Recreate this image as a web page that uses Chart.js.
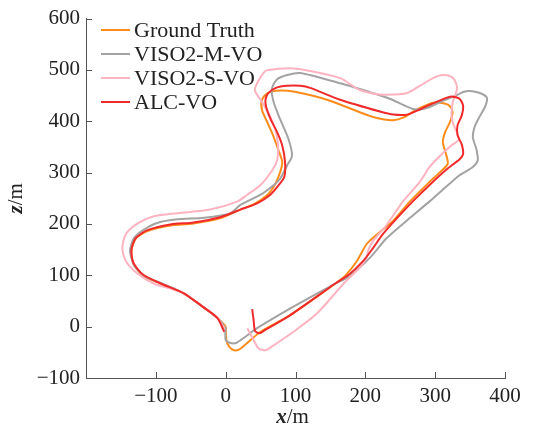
<!DOCTYPE html>
<html>
<head>
<meta charset="utf-8">
<script src="https://cdn.jsdelivr.net/npm/chart.js@4.4.0/dist/chart.umd.min.js"></script>
<style>
  html, body { margin: 0; padding: 0; background: #fff; }
  #wrap { width: 533px; height: 437px; }
</style>
</head>
<body>
<div id="wrap"><canvas id="traj" width="533" height="437"></canvas></div>
<script>
// trajectories, x / z in metres
const gtX = [0, 1, 5, 12, 21, 50, 92, 157, 171, 188, 202, 217, 239, 264, 292, 307, 318, 316, 311, 314, 321, 325, 322, 315, 297, 274, 254, 240, 225, 207, 145, 97, 78, 60, 52, 52, 60, 68, 75, 81, 78, 71, 60, 40, 21, -8, -46, -79, -112, -129, -135, -132, -118, -93, -60, -32, -12, -2, 0]
const gtZ = [0, -26, -39, -46, -43, -10, 22, 84, 99, 128, 161, 180, 205, 244, 282, 301, 317, 334, 359, 378, 398, 417, 428, 434, 436, 423, 407, 402, 404, 410, 442, 458, 460, 455, 442, 422, 397, 372, 346, 321, 301, 278, 257, 238, 228, 211, 201, 197, 186, 171, 147, 122, 99, 84, 65, 38, 17, 4, 0]

const monoX = [0, 0, 7, 16, 45, 97, 157, 178, 207, 231, 264, 292, 316, 335, 354, 361, 359, 354, 357, 364, 372, 374, 364, 350, 340, 331, 311, 288, 268, 235, 192, 164, 107, 88, 73, 66, 69, 78, 90, 95, 88, 78, 69, 50, 21, 7, -31, -69, -98, -117, -131, -137, -131, -117, -93, -60, -32, -12, -2]
const monoZ = [0, -26, -32, -31, -3, 39, 84, 99, 135, 173, 212, 244, 273, 295, 311, 324, 346, 369, 391, 410, 430, 446, 455, 459, 457, 451, 440, 426, 424, 444, 463, 474, 494, 490, 481, 462, 436, 404, 365, 333, 314, 288, 276, 257, 237, 221, 212, 209, 202, 189, 173, 148, 119, 99, 85, 65, 38, 17, 2]

const stereoX = [31, 40, 47, 57, 66, 97, 131, 169, 192, 202, 204, 211, 231, 254, 278, 292, 307, 323, 334, 324, 325, 331, 330, 324, 311, 297, 278, 260, 240, 221, 192, 164, 121, 97, 68, 57, 45, 42, 50, 61, 71, 75, 74, 67, 50, 31, 17, -22, -69, -103, -126, -143, -148, -143, -126, -103, -79, -60, -32, -12, -2]
const stereoZ = [-3, -26, -42, -46, -39, -10, 26, 84, 115, 135, 148, 167, 199, 244, 282, 311, 333, 353, 365, 403, 436, 461, 474, 486, 490, 484, 469, 455, 452, 452, 461, 484, 498, 503, 501, 498, 474, 459, 442, 417, 384, 353, 326, 305, 276, 257, 244, 228, 221, 215, 201, 180, 153, 128, 103, 84, 74, 65, 38, 17, -4]

const alcX = [38, 40, 42, 48, 57, 92, 157, 178, 197, 211, 225, 245, 268, 292, 317, 335, 340, 338, 332, 332, 338, 340, 335, 325, 317, 292, 278, 260, 240, 221, 164, 121, 107, 88, 72, 61, 57, 58, 64, 74, 81, 85, 84, 75, 64, 45, 21, -8, -46, -79, -112, -129, -135, -132, -118, -93, -60, -32, -12, -2]
const alcZ = [34, 13, -8, -13, -6, 22, 84, 103, 128, 153, 180, 211, 244, 276, 307, 326, 336, 355, 373, 392, 411, 430, 444, 448, 446, 432, 423, 413, 413, 419, 442, 465, 469, 469, 465, 455, 442, 428, 405, 378, 353, 321, 292, 274, 257, 240, 228, 213, 203, 199, 188, 172, 149, 124, 101, 84, 65, 38, 17, -10]

const xTicks = [-100, 0, 100, 200, 300, 400]
const zTicks = [-100, 0, 100, 200, 300, 400, 500, 600]

const seriesNames = ['Ground Truth', 'VISO2-M-VO', 'VISO2-S-VO', 'ALC-VO']
const seriesColors = ['#ff8c1a', '#a3a3a3', '#ffb3c0', '#f02a2a']

const FONT = '"Liberation Serif", "Times New Roman", serif'
const AXIS = '#555'
const TEXT = '#222'

const toPoints = (xs, zs) => xs.map((x, i) => ({x: x, y: zs[i]}))
const fmt = v => v < 0 ? '\u2212' + Math.abs(v) : String(v)

// tick marks point into the plot, like the original
const insideTicks = {
  id: 'insideTicks',
  afterDraw(chart) {
    const {ctx, chartArea, scales} = chart
    ctx.save()
    ctx.strokeStyle = AXIS
    ctx.lineWidth = 1
    xTicks.forEach(v => {
      const px = Math.round(scales.x.getPixelForValue(v)) + 0.5
      ctx.beginPath()
      ctx.moveTo(px, chartArea.bottom)
      ctx.lineTo(px, chartArea.bottom - 6)
      ctx.stroke()
    })
    zTicks.forEach(v => {
      const py = Math.round(scales.y.getPixelForValue(v)) + 0.5
      ctx.beginPath()
      ctx.moveTo(chartArea.left, py)
      ctx.lineTo(chartArea.left + 6, py)
      ctx.stroke()
    })
    ctx.restore()
  }
}

// legend sits inside the plot, top left
const innerLegend = {
  id: 'innerLegend',
  afterDraw(chart) {
    const {ctx} = chart
    ctx.save()
    ctx.font = '22px ' + FONT
    ctx.textBaseline = 'middle'
    ctx.fillStyle = TEXT
    chart.data.datasets.forEach((ds, i) => {
      const y = 30 + i * 24
      ctx.strokeStyle = ds.borderColor
      ctx.lineWidth = 2
      ctx.beginPath()
      ctx.moveTo(101, y)
      ctx.lineTo(130, y)
      ctx.stroke()
      ctx.fillText(ds.label, 134, y + 1)
    })
    ctx.restore()
  }
}

// axis titles with italic bold variable and upright unit
const axisTitles = {
  id: 'axisTitles',
  afterDraw(chart) {
    const {ctx, chartArea} = chart
    const drawTitle = (v, unit) => {
      ctx.font = 'italic bold 21px ' + FONT
      const w1 = ctx.measureText(v).width
      ctx.font = '21px ' + FONT
      const w2 = ctx.measureText(unit).width
      const x0 = -(w1 + w2) / 2
      ctx.font = 'italic bold 21px ' + FONT
      ctx.fillText(v, x0, 0)
      ctx.font = '21px ' + FONT
      ctx.fillText(unit, x0 + w1, 0)
    }
    ctx.save()
    ctx.fillStyle = TEXT
    ctx.textBaseline = 'alphabetic'
    ctx.save()
    ctx.translate((chartArea.left + chartArea.right) / 2 - 3, 423)
    drawTitle('x', '/m')
    ctx.restore()
    ctx.save()
    ctx.translate(22, (chartArea.top + chartArea.bottom) / 2)
    ctx.rotate(-Math.PI / 2)
    drawTitle('z', '/m')
    ctx.restore()
    ctx.restore()
  }
}

const ctx = document.getElementById('traj')
const chart = new Chart(ctx, {
  type: 'scatter',
  data: {
    datasets: [
      {label: seriesNames[0], data: toPoints(gtX, gtZ), borderColor: seriesColors[0], order: 3},
      {label: seriesNames[1], data: toPoints(monoX, monoZ), borderColor: seriesColors[1], order: 2},
      {label: seriesNames[2], data: toPoints(stereoX, stereoZ), borderColor: seriesColors[2], order: 1},
      {label: seriesNames[3], data: toPoints(alcX, alcZ), borderColor: seriesColors[3], order: 0},
    ].map(ds => Object.assign(ds, {
      showLine: true,
      pointRadius: 0,
      borderWidth: 2,
      tension: 0.25,
      fill: false,
    }))
  },
  options: {
    responsive: false,
    animation: false,
    layout: {padding: {top: 14, right: 28, left: 0, bottom: 0}},
    plugins: {
      legend: {display: false},
      tooltip: {enabled: false},
    },
    scales: {
      x: {
        type: 'linear',
        min: -200,
        max: 400,
        grid: {display: false, drawTicks: false},
        border: {display: true, color: AXIS, width: 1},
        ticks: {
          stepSize: 100,
          maxRotation: 0,
          padding: 6,
          color: TEXT,
          font: {family: FONT, size: 21},
          callback: v => v === -200 ? '' : fmt(v),
        },
        afterFit: s => { s.height = 59 },
      },
      y: {
        type: 'linear',
        min: -100,
        max: 600,
        grid: {display: false, drawTicks: false},
        border: {display: true, color: AXIS, width: 1},
        ticks: {
          stepSize: 100,
          padding: 6,
          color: TEXT,
          font: {family: FONT, size: 21},
          callback: v => fmt(v),
        },
        afterFit: s => { s.width = 86 },
      },
    },
  },
  plugins: [insideTicks, innerLegend, axisTitles],
})
</script>
</body>
</html>
